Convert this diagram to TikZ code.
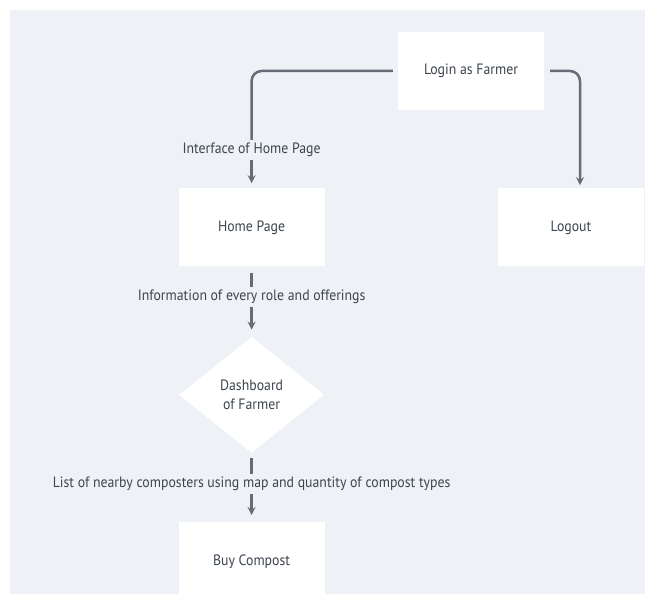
\documentclass[tikz,border=0pt]{standalone}
\usepackage{fontspec}
\setmainfont{PT Sans}[FakeStretch=0.92]
\usepackage{xcolor}
\usepackage{tikz}
\usetikzlibrary{shapes,arrows,positioning}

\definecolor{canvas}{HTML}{EEF2F6}
\definecolor{ink}{HTML}{3E454E}
\definecolor{wire}{HTML}{656C75}

\begin{document}
\begin{tikzpicture}[
    node distance=1.5cm,
    page/.style={rectangle, fill=white, text=ink, minimum width=146pt, minimum height=78pt, font=\fontsize{15}{18}\selectfont},
    choice/.style={diamond, fill=white, text=ink, minimum width=145pt, minimum height=116pt, inner sep=0pt, align=center, font=\fontsize{15}{19}\selectfont},
    note/.style={text=ink, minimum height=20pt, inner sep=0pt, font=\fontsize{15}{18}\selectfont},
    link/.style={wire, line width=2.5pt, rounded corners=10pt},
    arrow/.style={link, ->, >=stealth}
]

% Canvas
\fill[white] (0,0) rectangle (645pt,-594pt);
\fill[canvas] (10pt,-10pt) rectangle (645pt,-594pt);
\useasboundingbox (0,0) rectangle (645pt,-594pt);

% Login
\node (login) [page] at (471pt,-71pt) {Login as Farmer};

% Pages
\node (home) [page, below left=78pt and 73pt of login] {Home Page};
\node (logout) [page, below=78pt of login, xshift=100pt] {Logout};
\node (lblhome) [note, above=28pt of home] {Interface of Home Page};

\draw [link, shorten <=5pt] (login.west) -| (lblhome.north);
\draw [arrow, shorten >=5pt] (lblhome.south) -- (home.north);
\draw [arrow, shorten <=6pt, shorten >=3pt] (login.east) -| ([xshift=9pt]logout.north);

% Dashboard
\node (lblinfo) [note, below=20pt of home] {Information of every role and offerings};
\node (dash) [choice, below=70pt of home] {Dashboard\\of Farmer};

\draw [link, shorten <=6pt] (home.south) -- (lblinfo.north);
\draw [arrow, shorten >=7pt] (lblinfo.south) -- (dash.north);

% Buy
\node (lbllist) [note, below=21pt of dash] {List of nearby composters using map and quantity of compost types};
\node (buy) [page, below=69pt of dash] {Buy Compost};

\draw [link, shorten <=5pt] (dash.south) -- (lbllist.north);
\draw [arrow, shorten >=7pt] (lbllist.south) -- (buy.north);

\end{tikzpicture}
\end{document}
